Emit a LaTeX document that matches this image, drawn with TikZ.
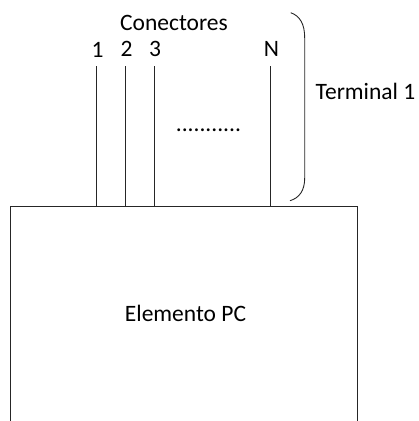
\documentclass[tikz,border=0pt]{standalone}
\usepackage{fontspec}
\setmainfont{Carlito}
\begin{document}
\begin{tikzpicture}[x=1pt,y=-1pt,
  lbl/.style={inner sep=0pt,anchor=base,font=\fontsize{23.5}{28}\selectfont},
  wire/.style={line width=1pt,black!85}]
\useasboundingbox (0,0) rectangle (419,421);
% Element box (open at the bottom)
\draw[wire] (10.7,421) -- (10.7,206) -- (357.3,206) -- (357.3,421);
\coordinate (b1) at (96.7,206);
\coordinate (b2) at (125.7,206);
\coordinate (b3) at (154.7,206);
\coordinate (bN) at (270.7,206);
\coordinate (t1) at (96.7,66);
\coordinate (t2) at (125.7,66);
\coordinate (t3) at (154.7,66);
\coordinate (tN) at (270.7,66);
\draw[wire] (t1) -- (b1);
\draw[wire] (t2) -- (b2);
\draw[wire] (t3) -- (b3);
\draw[wire] (tN) -- (bN);
\node[lbl] (conectores) at (174,30.5) {Conectores};
\node[lbl] (n1) at (97.5,57) {1};
\node[lbl] (n2) at (126.5,56) {2};
\node[lbl] (n3) at (155,56) {3};
\node[lbl] (nN) at (271.5,56) {N};
\node[lbl] (dots) at (208.5,131.5) {...........};
\node[lbl] (term) at (365.5,99.5) {Terminal 1};
\node[lbl] (elem) at (185.5,321) {Elemento PC};
% Brace
\coordinate (bt) at (290.7,12.7);
\coordinate (bb) at (290,200.7);
\draw[line width=0.9pt,black!85] (bt) .. controls (300,16) and (304.7,24) .. (304.7,38)
  -- (304.7,178) .. controls (304.7,191) and (299,198) .. (bb);
\end{tikzpicture}
\end{document}
